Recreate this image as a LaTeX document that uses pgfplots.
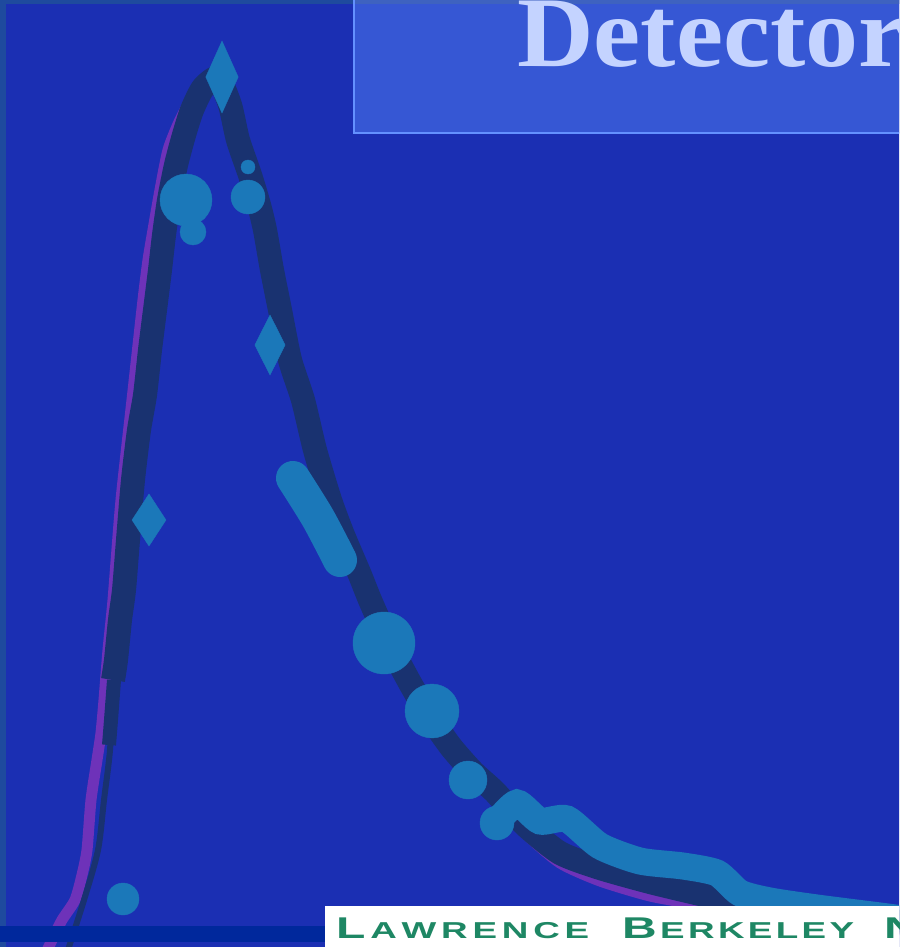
\documentclass[border=0pt]{standalone}
\usepackage{pgfplots}
\pgfplotsset{compat=1.18}
\usepackage{fontspec}
\setmainfont{Liberation Serif}
\newfontfamily\titlefont{Liberation Serif}[FakeStretch=1.06]
\newfontfamily\lbnlfont{Liberation Sans}[FakeStretch=1.6]

\definecolor{slidebg}{RGB}{27,47,179}
\definecolor{edgestrip}{RGB}{30,74,158}
\definecolor{boxstrip}{RGB}{62,98,192}
\definecolor{titlebox}{RGB}{54,87,212}
\definecolor{titleedge}{RGB}{100,145,255}
\definecolor{titletext}{RGB}{196,211,255}
\definecolor{navy}{RGB}{25,50,112}
\definecolor{purp}{RGB}{110,50,185}
\definecolor{lblue}{RGB}{27,120,185}
\definecolor{band}{RGB}{0,40,156}
\definecolor{lbnlgreen}{RGB}{30,135,100}

\newcommand\BIG[1]{{\fontsize{30}{30}\selectfont #1}}
\newcommand\SM[1]{{\fontsize{23}{23}\selectfont #1}}

% measured blobs: x y radius (pixel units, y downwards)
\pgfplotstableread{
x   y   r
123 899 16
100 962 20
186 200 26
193 232 13
248 197 17
248 167 7
384 643 31
432 711 27
468 780 19
497 823 17
}\blobs

\begin{document}
\begin{tikzpicture}
\begin{axis}[at={(0,0)}, anchor=south west, scale only axis,
  width=899pt, height=947pt,
  xmin=0, xmax=899, ymin=0, ymax=947, y dir=reverse,
  axis line style={draw=none}, ticks=none, clip=true]

% slide background and edges
\fill[slidebg] (axis cs:-5,-5) rectangle (axis cs:905,955);
\fill[edgestrip] (axis cs:-5,-5) rectangle (axis cs:6,955);
\fill[edgestrip] (axis cs:-5,-5) rectangle (axis cs:905,4);

% model curve (purple, under)
\addplot[purp, line width=11pt, smooth, tension=0.4] coordinates {
(45,955) (52,940) (62,920) (75,900) (82,875) (87,850) (91,800) (97,760)
(101,733) (104,700) (108,650) (113,600) (121,500) (132,400) (143,300)
(148,260) (153,230) (160,190) (168,150) (179,122) (192,98) (205,84)
(218,78) (230,105) (250,175) (272,270) (303,400) (343,535) (390,645)
(451,747) (495,797) (525,833) (560,863) (600,881) (650,896) (700,905)
(760,915) (830,924) (905,930)
};

% measured curve (navy)
\addplot[navy, line width=6pt, smooth] coordinates {
(112,700) (110,750) (104,800) (98,850) (84,900) (68,950)
};
\addplot[navy, line width=14pt, smooth] coordinates {
(114,680) (111,720) (109,745)
};
\addplot[navy, line width=24pt, smooth, tension=0.4] coordinates {
(113,680) (116,660) (120,620) (124,590) (128,540) (133,480) (139,430)
(145,395) (150,350) (155,310) (160,270) (164,235) (169,200) (176,165)
(184,135) (192,110) (203,88) (218,78) (230,105) (238,140) (250,175)
(259,205) (265,230) (272,270) (280,310) (290,360) (303,400) (315,450)
(330,500) (343,535) (360,575) (370,600) (390,645) (410,683) (430,717)
(451,747) (473,772) (495,792) (525,825) (560,853) (600,868) (650,882)
(700,894) (750,905) (820,915) (905,922)
};

% simulated points (light blue)
\addplot[lblue, line width=34pt, line cap=round, smooth] coordinates {
(293,478) (318,518) (340,560)
};
\addplot[lblue, line width=27pt, line cap=round, smooth, tension=0.4] coordinates {
(497,822) (517,803) (540,821) (567,819) (600,846) (640,861) (683,866)
(717,873) (740,893) (770,901) (817,908) (880,916) (910,920)
};
\addplot[scatter, only marks, mark=*,
  scatter/use mapped color={draw=lblue, fill=lblue},
  visualization depends on={\thisrow{r}\as\blobr},
  scatter/@pre marker code/.append style={/tikz/mark size=\blobr}]
  table[x=x, y=y] {\blobs};
\addplot[only marks, mark=diamond*, lblue, mark size=36, mark options={xscale=0.6}]
  coordinates {(222,77)};
\addplot[only marks, mark=diamond*, lblue, mark size=26, mark options={xscale=0.87}]
  coordinates {(149,520)};
\addplot[only marks, mark=diamond*, lblue, mark size=30, mark options={xscale=0.67}]
  coordinates {(270,345)};

% footer band and logo strip
\fill[band] (axis cs:-5,926) rectangle (axis cs:325,942);
\fill[white] (axis cs:325,906) rectangle (axis cs:905,955);
\node[anchor=base west, inner sep=0, text=lbnlgreen, font=\lbnlfont\bfseries]
  at (axis cs:336,938) {\makebox[253pt]{\BIG{L}\hfill\SM{A}\hfill\SM{W}\hfill\SM{R}\hfill\SM{E}\hfill\SM{N}\hfill\SM{C}\hfill\SM{E}}};
\node[anchor=base west, inner sep=0, text=lbnlgreen, font=\lbnlfont\bfseries]
  at (axis cs:622,938) {\makebox[232pt]{\BIG{B}\hfill\SM{E}\hfill\SM{R}\hfill\SM{K}\hfill\SM{E}\hfill\SM{L}\hfill\SM{E}\hfill\SM{Y}}};
\node[anchor=base west, inner sep=0, text=lbnlgreen, font=\lbnlfont\bfseries]
  at (axis cs:884,938) {\BIG{N}};

% title box
\filldraw[fill=titlebox, draw=titleedge, line width=2pt]
  (axis cs:354,-10) rectangle (axis cs:910,133);
\fill[boxstrip] (axis cs:355,-5) rectangle (axis cs:905,4);
\node[anchor=base west, inner sep=0, text=titletext,
  font=\titlefont\fontsize{100}{100}\selectfont\bfseries]
  at (axis cs:517,67) {Detector};
\end{axis}
\pgfresetboundingbox
\path[use as bounding box] (0,0) rectangle (899pt,947pt);
\end{tikzpicture}
\end{document}
